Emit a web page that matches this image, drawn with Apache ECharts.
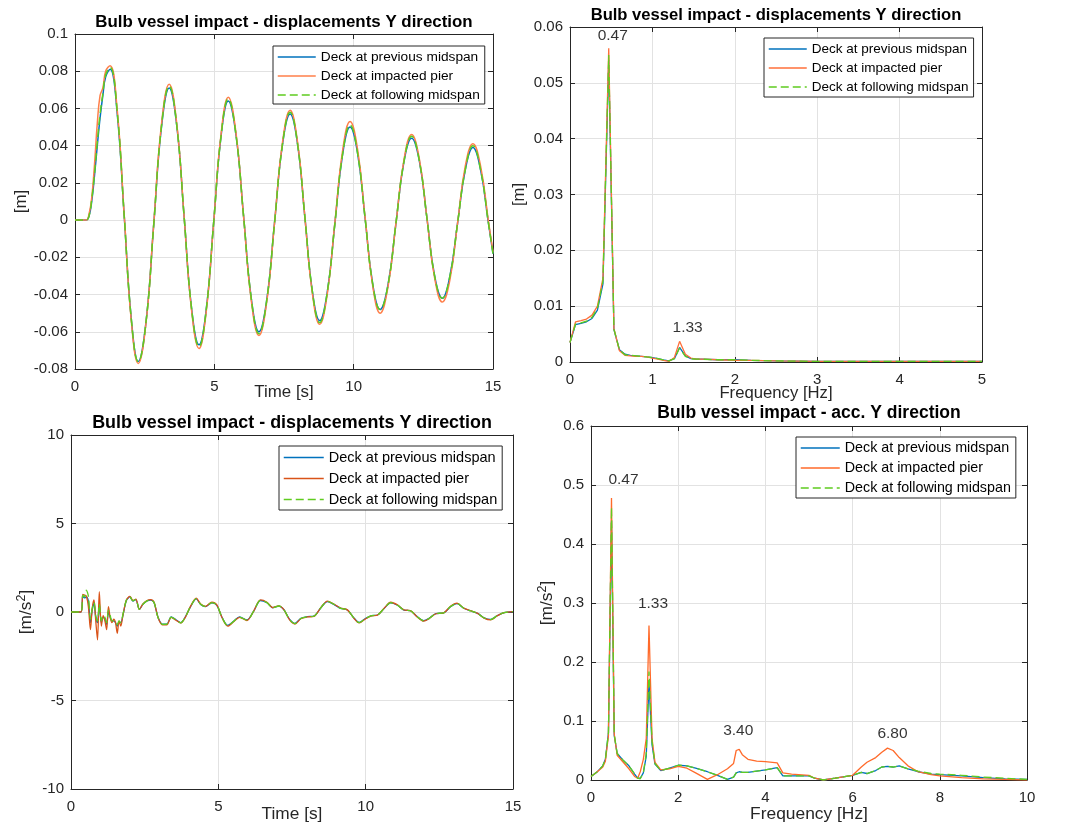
<!DOCTYPE html>
<html>
<head>
<meta charset="utf-8">
<script src="https://cdn.jsdelivr.net/npm/echarts@6/dist/echarts.min.js"></script>
<style>
  html, body { margin: 0; padding: 0; background: #ffffff; }
  #chart { width: 1069px; height: 828px; }
</style>
</head>
<body>
<div id="chart"></div>
<script>
// ---- Deck displacement, Y direction: time history [s] / [m] ----
const dispTime = [0, 0.4, 0.5, 0.6, 0.7, 0.8, 0.9, 1.0, 1.1, 1.26,
  1.51, 1.765, 2.02, 2.27, 2.55, 2.825, 3.10, 3.38, 3.65, 3.915,
  4.18, 4.45, 4.71, 4.975, 5.24, 5.50, 5.775, 6.05, 6.325, 6.60,
  6.88, 7.16, 7.44, 7.72, 7.985, 8.25, 8.515, 8.78, 9.05, 9.325,
  9.60, 9.87, 10.14, 10.41, 10.68, 10.95, 11.23, 11.515, 11.80, 12.08,
  12.355, 12.63, 12.905, 13.18, 13.455, 13.73, 14.005, 14.28, 14.555, 14.83,
  15.0];
const dispPrevMid = [0, 0, 0.002, 0.010, 0.024, 0.040, 0.055, 0.067, 0.077, 0.081,
  0.058, 0.0025, -0.053, -0.076, -0.0545, -0.0025, 0.0495, 0.071, 0.051, 0.002,
  -0.047, -0.067, -0.048, -0.0015, 0.045, 0.064, 0.046, 0.002, -0.042, -0.060,
  -0.043, -0.0015, 0.040, 0.057, 0.041, 0.0015, -0.038, -0.054, -0.039, -0.002,
  0.035, 0.050, 0.036, 0.001, -0.034, -0.048, -0.035, -0.002, 0.031, 0.044,
  0.032, 0.001, -0.030, -0.042, -0.030, -0.0015, 0.027, 0.039, 0.027, -0.001,
  -0.018];
const dispPier = [0, 0, 0.003, 0.012, 0.030, 0.052, 0.067, 0.071, 0.080, 0.083,
  0.060, 0.003, -0.054, -0.077, -0.055, -0.002, 0.051, 0.073, 0.052, 0.002,
  -0.048, -0.069, -0.049, -0.0015, 0.046, 0.066, 0.047, 0.002, -0.043, -0.062,
  -0.044, -0.0015, 0.041, 0.059, 0.042, 0.0015, -0.039, -0.056, -0.040, -0.0015,
  0.037, 0.053, 0.038, 0.0015, -0.035, -0.050, -0.036, -0.002, 0.032, 0.046,
  0.033, 0.001, -0.031, -0.044, -0.032, -0.0015, 0.029, 0.041, 0.029, 0.000,
  -0.017];
const dispNextMid = [0, 0, 0.002, 0.011, 0.025, 0.042, 0.057, 0.068, 0.078, 0.082,
  0.059, 0.0025, -0.053, -0.076, -0.0545, -0.0025, 0.050, 0.072, 0.051, 0.002,
  -0.047, -0.068, -0.048, -0.0015, 0.045, 0.065, 0.046, 0.002, -0.042, -0.061,
  -0.043, -0.0015, 0.040, 0.058, 0.041, 0.0015, -0.038, -0.055, -0.039, -0.002,
  0.035, 0.051, 0.036, 0.001, -0.034, -0.048, -0.035, -0.002, 0.031, 0.045,
  0.032, 0.001, -0.030, -0.042, -0.030, -0.0015, 0.027, 0.040, 0.027, -0.001,
  -0.018];

// ---- Displacement amplitude spectrum [Hz] / [m] ----
const dispFreq = [0, 0.067, 0.133, 0.2, 0.267, 0.333, 0.4, 0.47, 0.533, 0.6,
  0.667, 0.733, 0.8, 0.867, 0.933, 1.0, 1.067, 1.133, 1.2, 1.267,
  1.33, 1.4, 1.467, 1.533, 1.6, 1.8, 2.0, 2.2, 2.5, 3.0,
  3.5, 4.0, 4.5, 5.0];
const dispSpecPrevMid = [0.0035, 0.0067, 0.0069, 0.0072, 0.0078, 0.0093, 0.014, 0.054, 0.0058, 0.0022,
  0.0014, 0.0012, 0.0011, 0.0010, 0.0009, 0.0008, 0.0006, 0.0004, 0.0002, 0.0006,
  0.0026, 0.0011, 0.0006, 0.0005, 0.0005, 0.0004, 0.0004, 0.0003, 0.0002, 0.0001,
  0.0001, 0.0001, 0.0001, 0.0001];
const dispSpecPier = [0.0035, 0.0072, 0.0074, 0.0077, 0.0084, 0.0100, 0.015, 0.0562, 0.0060, 0.0020,
  0.0012, 0.0011, 0.0010, 0.0010, 0.0009, 0.0007, 0.0005, 0.0003, 0.0001, 0.0008,
  0.0037, 0.0014, 0.0007, 0.0005, 0.0005, 0.0004, 0.0003, 0.0003, 0.0002, 0.0001,
  0.0001, 0.0001, 0.0001, 0.0001];
const dispSpecNextMid = [0.0035, 0.0068, 0.0070, 0.0073, 0.0080, 0.0096, 0.0145, 0.0550, 0.0059, 0.0022,
  0.0013, 0.0012, 0.0011, 0.0010, 0.0009, 0.0008, 0.0006, 0.0004, 0.0002, 0.0006,
  0.0025, 0.0010, 0.0006, 0.0005, 0.0005, 0.0004, 0.0004, 0.0003, 0.0002, 0.0001,
  0.0001, 0.0001, 0.0001, 0.0001];
const dispPeaks = [0.47, 1.33];

// ---- Deck acceleration, Y direction: time history [s] / [m/s^2] ----
const accTime = [0, 0.34, 0.40, 0.46, 0.52, 0.59, 0.66, 0.72, 0.78, 0.84,
  0.90, 0.96, 1.03, 1.09, 1.15, 1.21, 1.27, 1.33, 1.39, 1.45,
  1.51, 1.57, 1.63, 1.69, 1.76, 1.88, 2.00, 2.10, 2.20, 2.32,
  2.44, 2.58, 2.70, 2.82, 2.95, 3.10, 3.25, 3.40, 3.55, 3.72,
  3.88, 4.05, 4.25, 4.40, 4.56, 4.78, 4.95, 5.12, 5.32, 5.52,
  5.72, 5.97, 6.20, 6.43, 6.65, 6.85, 7.05, 7.22, 7.42, 7.60,
  7.80, 8.02, 8.24, 8.48, 8.70, 8.92, 9.15, 9.38, 9.60, 9.78,
  10.00, 10.20, 10.40, 10.62, 10.85, 11.08, 11.30, 11.52, 11.75, 11.97,
  12.15, 12.38, 12.65, 12.88, 13.10, 13.33, 13.55, 13.80, 14.02, 14.24,
  14.46, 14.70, 15.0];
const accPrevMid = [0, 0, 0.9, 0.8, 0.85, 0.6, -0.6, 0.1, 0.5, -0.3,
  -0.6, 0.4, -0.6, -0.3, -0.4, -0.7, 0.0, -0.3, -0.5, -0.5,
  -0.6, -0.8, -0.6, -0.6, -0.2, 0.65, 0.85, 0.62, 0.7, 0.15,
  0.43, 0.62, 0.67, 0.52, -0.28, -0.68, -0.68, -0.28, -0.42, -0.6,
  -0.28, 0.28, 0.74, 0.43, 0.3, 0.52, 0.38, -0.28, -0.75, -0.52,
  -0.28, -0.45, 0.05, 0.65, 0.52, 0.24, 0.33, 0.14, -0.42, -0.64,
  -0.36, -0.26, -0.23, 0.24, 0.59, 0.43, 0.21, 0.11, -0.33, -0.59,
  -0.36, -0.2, -0.17, 0.19, 0.52, 0.38, 0.11, 0.07, -0.26, -0.49,
  -0.36, -0.09, -0.05, 0.3, 0.47, 0.21, 0.07, -0.08, -0.33, -0.42,
  -0.21, -0.04, 0.02];
const accPier = [0, 0, 1.0, 0.95, 0.9, 0.3, -1.0, 0.2, 0.68, -0.5,
  -1.58, 1.15, -0.8, -0.2, -0.5, -1.0, 0.3, -0.3, -0.6, -0.4,
  -0.6, -1.2, -0.5, -0.8, -0.2, 0.68, 0.88, 0.65, 0.72, 0.15,
  0.45, 0.65, 0.7, 0.55, -0.3, -0.72, -0.72, -0.3, -0.45, -0.62,
  -0.3, 0.3, 0.78, 0.45, 0.32, 0.55, 0.4, -0.3, -0.8, -0.55,
  -0.3, -0.48, 0.05, 0.68, 0.55, 0.25, 0.35, 0.15, -0.45, -0.68,
  -0.38, -0.28, -0.25, 0.25, 0.62, 0.45, 0.22, 0.12, -0.35, -0.62,
  -0.38, -0.22, -0.18, 0.2, 0.55, 0.4, 0.12, 0.08, -0.28, -0.52,
  -0.38, -0.1, -0.05, 0.32, 0.5, 0.22, 0.08, -0.08, -0.35, -0.45,
  -0.22, -0.04, 0.02];
const accNextMid = [0, 0, 0.95, 0.85, 1.24, 0.9, -0.4, 0.2, 0.55, -0.2,
  -0.5, 0.45, -0.5, -0.2, -0.3, -0.6, 0.1, -0.2, -0.5, -0.5,
  -0.6, -0.7, -0.5, -0.6, -0.15, 0.66, 0.86, 0.63, 0.71, 0.15,
  0.44, 0.63, 0.68, 0.53, -0.29, -0.7, -0.69, -0.29, -0.43, -0.61,
  -0.29, 0.29, 0.76, 0.44, 0.31, 0.53, 0.39, -0.29, -0.77, -0.53,
  -0.29, -0.46, 0.05, 0.66, 0.53, 0.24, 0.34, 0.14, -0.43, -0.66,
  -0.37, -0.27, -0.24, 0.24, 0.6, 0.44, 0.21, 0.11, -0.34, -0.6,
  -0.37, -0.21, -0.17, 0.19, 0.53, 0.39, 0.11, 0.07, -0.27, -0.5,
  -0.37, -0.09, -0.05, 0.31, 0.48, 0.21, 0.07, -0.08, -0.34, -0.43,
  -0.21, -0.04, 0.02];

// ---- Acceleration amplitude spectrum [Hz] / [m/s^2] ----
const accFreq = [0, 0.13, 0.27, 0.33, 0.40, 0.47, 0.533, 0.60, 0.73, 0.87,
  1.0, 1.07, 1.13, 1.2, 1.267, 1.33, 1.4, 1.467, 1.6, 1.8,
  2.0, 2.2, 2.4, 2.67, 2.9, 3.13, 3.27, 3.33, 3.40, 3.47,
  3.6, 3.8, 4.0, 4.27, 4.4, 4.6, 5.0, 5.13, 5.33, 5.6,
  6.0, 6.2, 6.33, 6.53, 6.67, 6.8, 6.93, 7.07, 7.27, 7.5,
  7.8, 8.0, 8.5, 9.0, 9.5, 10.0];
const accSpecPrevMid = [0.006, 0.013, 0.024, 0.035, 0.08, 0.44, 0.075, 0.045, 0.034, 0.024,
  0.010, 0.003, 0.003, 0.012, 0.04, 0.165, 0.06, 0.027, 0.016, 0.020,
  0.025, 0.024, 0.020, 0.014, 0.008, 0.001, 0.005, 0.012, 0.014, 0.013,
  0.013, 0.015, 0.017, 0.021, 0.007, 0.007, 0.007, 0.003, 0.000, 0.003,
  0.008, 0.013, 0.011, 0.016, 0.022, 0.023, 0.022, 0.024, 0.019, 0.014,
  0.010, 0.009, 0.007, 0.004, 0.002, 0.001];
const accSpecPier = [0.006, 0.013, 0.022, 0.032, 0.075, 0.478, 0.078, 0.042, 0.031, 0.019,
  0.006, 0.003, 0.014, 0.035, 0.07, 0.262, 0.07, 0.03, 0.017, 0.019,
  0.023, 0.020, 0.012, 0.001, 0.009, 0.019, 0.028, 0.050, 0.052, 0.043,
  0.035, 0.032, 0.031, 0.029, 0.012, 0.010, 0.008, 0.003, 0.000, 0.003,
  0.008, 0.022, 0.030, 0.038, 0.047, 0.054, 0.050, 0.038, 0.024, 0.014,
  0.009, 0.007, 0.004, 0.002, 0.001, 0.000];
const accSpecNextMid = [0.006, 0.013, 0.024, 0.035, 0.08, 0.462, 0.077, 0.045, 0.034, 0.024,
  0.010, 0.003, 0.002, 0.012, 0.045, 0.184, 0.065, 0.028, 0.016, 0.020,
  0.025, 0.024, 0.020, 0.014, 0.008, 0.001, 0.005, 0.012, 0.014, 0.013,
  0.013, 0.015, 0.017, 0.021, 0.007, 0.007, 0.007, 0.003, 0.000, 0.003,
  0.008, 0.013, 0.011, 0.016, 0.022, 0.023, 0.022, 0.024, 0.019, 0.015,
  0.011, 0.010, 0.008, 0.005, 0.003, 0.001];
const accPeaks = [0.47, 1.33, 3.40, 6.80];

const seriesNames = ['Deck at previous midspan', 'Deck at impacted pier', 'Deck at following midspan'];
const panelTitles = [
  'Bulb vessel impact - displacements Y direction',
  'Bulb vessel impact - displacements Y direction',
  'Bulb vessel impact - displacements Y direction',
  'Bulb vessel impact - acc. Y direction'
];

// ---------------------------------------------------------------
const FONT = '"Liberation Sans", Arial, Helvetica, sans-serif';
const INK = '#262626';
const BLUE = '#0072BD';
const GREEN = '#5FCC1F';
const ORANGES = ['#FF7F4A', '#FF6F3A', '#D95319', '#FF6A2A'];

const grids = [
  { left: 75, top: 34, width: 418, height: 335 },
  { left: 570, top: 27, width: 412, height: 335 },
  { left: 71, top: 435, width: 442, height: 354 },
  { left: 591, top: 426, width: 436, height: 354 }
];

const frame = { color: INK, width: 1 };

function axesFor(g, xr, yr, xName, xGap, xSize, yName, yGap, ySize, yRich) {
  const xs = [
    {
      type: 'value', gridIndex: g, position: 'bottom', min: xr[0], max: xr[1], interval: xr[2],
      name: xName, nameLocation: 'middle', nameGap: xGap, nameMoveOverlap: false,
      nameTextStyle: { fontSize: xSize, color: INK, fontFamily: FONT },
      axisLine: { show: true, onZero: false, lineStyle: frame },
      axisTick: { show: true, inside: true, length: 5, lineStyle: frame },
      axisLabel: { margin: 10, fontSize: 15, color: INK, fontFamily: FONT, hideOverlap: false },
      splitLine: { show: true, lineStyle: { color: '#e2e2e2', width: 1 } }
    },
    {
      type: 'value', gridIndex: g, position: 'top', min: xr[0], max: xr[1], interval: xr[2],
      axisLine: { show: true, onZero: false, lineStyle: frame },
      axisTick: { show: true, inside: true, length: 5, lineStyle: frame },
      axisLabel: { show: false }, splitLine: { show: false }
    }
  ];
  const ys = [
    {
      type: 'value', gridIndex: g, position: 'left', min: yr[0], max: yr[1], interval: yr[2],
      name: yName, nameLocation: 'middle', nameGap: yGap, nameMoveOverlap: false,
      nameTextStyle: { fontSize: ySize, color: INK, fontFamily: FONT, rich: yRich || {} },
      axisLine: { show: true, onZero: false, lineStyle: frame },
      axisTick: { show: true, inside: true, length: 5, lineStyle: frame },
      axisLabel: { margin: 7, fontSize: 15, color: INK, fontFamily: FONT, hideOverlap: false },
      splitLine: { show: true, lineStyle: { color: '#e2e2e2', width: 1 } }
    },
    {
      type: 'value', gridIndex: g, position: 'right', min: yr[0], max: yr[1], interval: yr[2],
      axisLine: { show: true, onZero: false, lineStyle: frame },
      axisTick: { show: true, inside: true, length: 5, lineStyle: frame },
      axisLabel: { show: false }, splitLine: { show: false }
    }
  ];
  return { xs, ys };
}

const supRich = {
  sup: { fontSize: 12.5, color: INK, fontFamily: FONT, verticalAlign: 'top', padding: [0, 0, 9, 0] }
};

const axes = [
  axesFor(0, [0, 15, 5], [-0.08, 0.1, 0.02], 'Time [s]', 15, 16.9, '[m]', 45, 16.9),
  axesFor(1, [0, 5, 1], [0, 0.06, 0.01], 'Frequency [Hz]', 23, 16.7, '[m]', 42, 16.7),
  axesFor(2, [0, 15, 5], [-10, 10, 5], 'Time [s]', 17, 17.3, '[m/s{sup|2}]', 34, 17.3, supRich),
  axesFor(3, [0, 10, 2], [0, 0.6, 0.1], 'Frequency [Hz]', 26, 17.4, '[m/s{sup|2}]', 33, 17.4, supRich)
];

const xAxis = [].concat(...axes.map(a => a.xs));
const yAxis = [].concat(...axes.map(a => a.ys));

function pairs(xs, ys) {
  return xs.map((x, i) => [x, ys[i]]);
}

function lineSet(g, xs, sets, smooth, width) {
  const colors = [BLUE, ORANGES[g], GREEN];
  return sets.map((ys, k) => ({
    type: 'line',
    name: seriesNames[k],
    xAxisIndex: g * 2,
    yAxisIndex: g * 2,
    data: pairs(xs, ys),
    showSymbol: false,
    symbol: 'none',
    smooth: smooth,
    animation: false,
    z: 3 + k,
    lineStyle: { color: colors[k], width: width, type: k === 2 ? [8, 4] : 'solid' },
    itemStyle: { color: colors[k] }
  }));
}

// Peak annotations: frequency text placed above the impacted-pier amplitude
function peakLabels(g, freqs, amps, peaks, nudges) {
  return {
    type: 'scatter',
    xAxisIndex: g * 2,
    yAxisIndex: g * 2,
    symbolSize: 0.01,
    silent: true,
    animation: false,
    z: 10,
    itemStyle: { color: 'rgba(0,0,0,0)' },
    data: peaks.map((f, i) => ({
      value: [f, amps[freqs.indexOf(f)]],
      label: { offset: nudges[i] }
    })),
    label: {
      show: true,
      position: 'top',
      distance: 4,
      fontSize: 15.5,
      color: '#000',
      fontFamily: FONT,
      formatter: p => p.value[0].toFixed(2)
    }
  };
}

function legendAt(g, left, top, fontSize, itemWidth, itemGap, padding) {
  const colors = [BLUE, ORANGES[g], GREEN];
  return {
    left: left, top: top, orient: 'vertical', selectedMode: false,
    backgroundColor: '#ffffff', borderColor: INK, borderWidth: 1, borderRadius: 0,
    padding: padding, itemWidth: itemWidth, itemHeight: 14, itemGap: itemGap,
    textStyle: { fontSize: fontSize, color: '#000', fontFamily: FONT },
    data: seriesNames.map((n, k) => ({
      name: n,
      // line-only key: the marker glyph is kept invisible
      itemStyle: { color: 'rgba(0,0,0,0)', borderColor: 'rgba(0,0,0,0)', borderWidth: 0 },
      lineStyle: { color: colors[k], width: 1.5, type: k === 2 ? [8, 4] : 'solid' }
    }))
  };
}

const titleCenters = [[284, 14], [776, 7], [292, 414], [809, 404]];
const titleSizes = [16.9, 16.6, 17.9, 17.5];

const option = {
  animation: false,
  backgroundColor: '#ffffff',
  textStyle: { fontFamily: FONT },
  title: panelTitles.map((t, i) => ({
    text: t,
    left: titleCenters[i][0],
    top: titleCenters[i][1],
    textAlign: 'center',
    padding: 0,
    textStyle: { fontSize: titleSizes[i], fontWeight: 'bold', color: '#000', fontFamily: FONT }
  })),
  grid: grids.map(g => Object.assign({ containLabel: false }, g)),
  xAxis: xAxis,
  yAxis: yAxis,
  legend: [
    legendAt(0, 273, 46, 13.7, 38, 5, [4, 5, 2, 4]),
    legendAt(1, 764, 38, 13.5, 38, 5, [4, 5, 3, 4]),
    legendAt(2, 279, 446, 14.5, 40, 6, [4, 5, 3, 4]),
    legendAt(3, 796, 437, 14.3, 39, 6, [4, 5, 3, 4])
  ],
  series: [].concat(
    lineSet(0, dispTime, [dispPrevMid, dispPier, dispNextMid], 0.45, 1.5),
    lineSet(1, dispFreq, [dispSpecPrevMid, dispSpecPier, dispSpecNextMid], false, 1.3),
    lineSet(2, accTime, [accPrevMid, accPier, accNextMid], 0.3, 1.3),
    lineSet(3, accFreq, [accSpecPrevMid, accSpecPier, accSpecNextMid], false, 1.3),
    [
      peakLabels(1, dispFreq, dispSpecPier, dispPeaks, [[4, 0], [8, -2]]),
      peakLabels(3, accFreq, accSpecPier, accPeaks, [[12, -6], [4, -10], [-1, -7], [5, -2]])
    ]
  )
};

const chart = echarts.init(document.getElementById('chart'), null, { renderer: 'canvas' });
chart.setOption(option);
</script>
</body>
</html>
